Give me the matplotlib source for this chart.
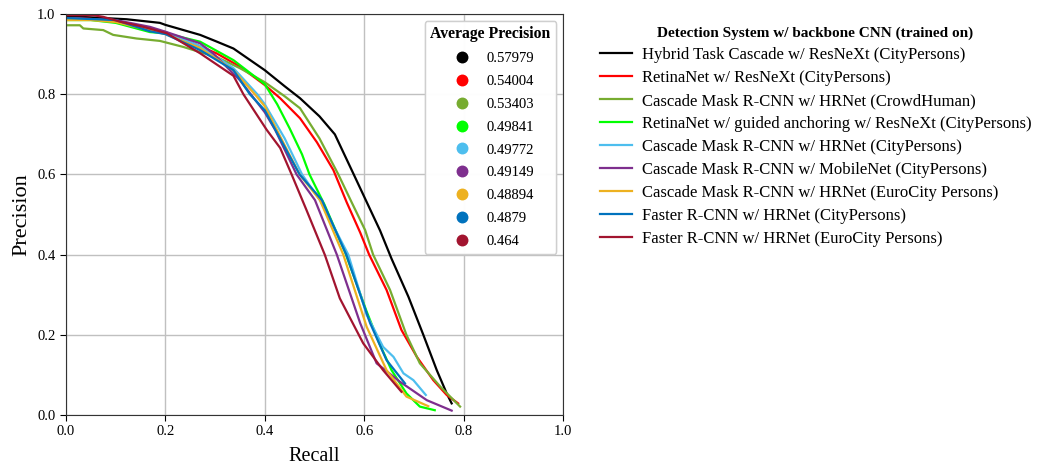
import matplotlib.pyplot as plt
from matplotlib.lines import Line2D

plt.rcParams['font.family'] = ['Liberation Serif', 'DejaVu Serif']

# detectors, AP and colours
labels = ['Hybrid Task Cascade w/ ResNeXt (CityPersons)',
          'RetinaNet w/ ResNeXt (CityPersons)',
          'Cascade Mask R-CNN w/ HRNet (CrowdHuman)',
          'RetinaNet w/ guided anchoring w/ ResNeXt (CityPersons)',
          'Cascade Mask R-CNN w/ HRNet (CityPersons)',
          'Cascade Mask R-CNN w/ MobileNet (CityPersons)',
          'Cascade Mask R-CNN w/ HRNet (EuroCity Persons)',
          'Faster R-CNN w/ HRNet (CityPersons)',
          'Faster R-CNN w/ HRNet (EuroCity Persons)']
ap = ['0.57979', '0.54004', '0.53403', '0.49841', '0.49772', '0.49149', '0.48894', '0.4879', '0.464']
colors = ['#000000', '#ff0000', '#77ac30', '#00ff00', '#4dbeee', '#7e2f8e', '#edb120', '#0072bd', '#a2142f']

# precision / recall curves
htc_r = [0, 0.075, 0.122, 0.189, 0.2, 0.27, 0.3, 0.337, 0.4, 0.44, 0.471, 0.51, 0.541, 0.579, 0.632, 0.655, 0.689, 0.719, 0.746, 0.766, 0.776]
htc_p = [0.995, 0.99, 0.987, 0.978, 0.973, 0.948, 0.933, 0.914, 0.86, 0.82, 0.79, 0.745, 0.70, 0.60, 0.46, 0.39, 0.295, 0.20, 0.112, 0.054, 0.029]

retina_r = [0, 0.05, 0.1, 0.15, 0.2, 0.25, 0.303, 0.35, 0.4, 0.431, 0.471, 0.505, 0.538, 0.565, 0.592, 0.61, 0.645, 0.675, 0.706, 0.739, 0.766, 0.789]
retina_p = [0.99, 0.988, 0.982, 0.97, 0.955, 0.93, 0.902, 0.869, 0.823, 0.79, 0.74, 0.68, 0.611, 0.53, 0.455, 0.40, 0.312, 0.212, 0.145, 0.087, 0.05, 0.029]

crowd_r = [0, 0.028, 0.035, 0.075, 0.095, 0.142, 0.189, 0.236, 0.27, 0.303, 0.35, 0.4, 0.44, 0.471, 0.51, 0.548, 0.575, 0.602, 0.618, 0.652, 0.685, 0.712, 0.753, 0.793]
crowd_p = [0.972, 0.972, 0.964, 0.96, 0.948, 0.939, 0.933, 0.918, 0.905, 0.893, 0.865, 0.83, 0.795, 0.765, 0.69, 0.60, 0.53, 0.461, 0.40, 0.312, 0.2, 0.129, 0.071, 0.021]

ga_r = [0, 0.05, 0.1, 0.169, 0.2, 0.27, 0.337, 0.4, 0.425, 0.45, 0.475, 0.49, 0.52, 0.562, 0.605, 0.63, 0.655, 0.685, 0.712, 0.742]
ga_p = [0.985, 0.985, 0.978, 0.955, 0.952, 0.931, 0.885, 0.825, 0.775, 0.715, 0.65, 0.60, 0.525, 0.405, 0.258, 0.18, 0.112, 0.054, 0.021, 0.012]

cm_hr_r = [0, 0.1, 0.2, 0.27, 0.337, 0.385, 0.4, 0.44, 0.475, 0.511, 0.568, 0.605, 0.638, 0.659, 0.679, 0.699, 0.724]
cm_hr_p = [0.99, 0.983, 0.955, 0.92, 0.865, 0.80, 0.775, 0.69, 0.60, 0.536, 0.40, 0.25, 0.17, 0.145, 0.104, 0.087, 0.05]

cm_mob_r = [0, 0.1, 0.169, 0.2, 0.27, 0.296, 0.35, 0.4, 0.421, 0.464, 0.501, 0.545, 0.592, 0.625, 0.672, 0.726, 0.776]
cm_mob_p = [0.99, 0.985, 0.968, 0.956, 0.927, 0.902, 0.835, 0.755, 0.711, 0.60, 0.536, 0.40, 0.229, 0.129, 0.083, 0.037, 0.011]

cm_ec_r = [0, 0.05, 0.1, 0.2, 0.27, 0.337, 0.38, 0.4, 0.47, 0.511, 0.558, 0.605, 0.645, 0.685, 0.729]
cm_ec_p = [0.985, 0.985, 0.98, 0.95, 0.915, 0.86, 0.80, 0.77, 0.60, 0.536, 0.40, 0.22, 0.112, 0.046, 0.022]

frcnn_cp_r = [0, 0.1, 0.169, 0.2, 0.27, 0.337, 0.37, 0.4, 0.47, 0.515, 0.564, 0.612, 0.645, 0.682]
frcnn_cp_p = [0.99, 0.985, 0.957, 0.95, 0.91, 0.86, 0.80, 0.76, 0.60, 0.536, 0.40, 0.229, 0.137, 0.079]

frcnn_ec_r = [0, 0.055, 0.075, 0.109, 0.156, 0.203, 0.27, 0.337, 0.357, 0.404, 0.431, 0.454, 0.484, 0.521, 0.551, 0.598, 0.638, 0.675]
frcnn_ec_p = [0.997, 0.997, 0.993, 0.981, 0.968, 0.952, 0.902, 0.846, 0.80, 0.711, 0.666, 0.60, 0.511, 0.399, 0.291, 0.179, 0.112, 0.058]

recalls = [htc_r, retina_r, crowd_r, ga_r, cm_hr_r, cm_mob_r, cm_ec_r, frcnn_cp_r, frcnn_ec_r]
precisions = [htc_p, retina_p, crowd_p, ga_p, cm_hr_p, cm_mob_p, cm_ec_p, frcnn_cp_p, frcnn_ec_p]

fig = plt.figure(figsize=(10.37, 4.68), dpi=100)
ax = fig.add_axes([0.0636, 0.1132, 0.4793, 0.8568])

for r, p, c in zip(recalls, precisions, colors):
    ax.plot(r, p, color=c, lw=1.6)

ax.set_xlim(0, 1)
ax.set_ylim(0, 1)
ax.set_xlabel('Recall', fontsize=14.5, labelpad=6)
ax.set_ylabel('Precision', fontsize=16)
ax.grid(True, color='#c0c0c0', lw=1)
ax.tick_params(labelsize=10.5, direction='out', length=4)
for s in ax.spines.values():
    s.set_color('#333333')

ap_handles = [Line2D([], [], ls='', marker='o', ms=7.5, color=c) for c in colors]
leg1 = ax.legend(ap_handles, ap, title='Average Precision', loc='upper right',
                 fontsize=10.5, title_fontproperties={'weight': 'bold', 'size': 11.3},
                 borderaxespad=0.45, labelspacing=0.66, handlelength=2, handletextpad=0.7,
                 fancybox=True, edgecolor='#cccccc', framealpha=0.85)
ax.add_artist(leg1)

line_handles = [Line2D([], [], color=c, lw=1.6) for c in colors]
fig.legend(line_handles, labels, title='Detection System w/ backbone CNN (trained on)',
           loc='upper left', bbox_to_anchor=(0.564, 0.975), frameon=False,
           fontsize=12, title_fontproperties={'weight': 'bold', 'size': 11},
           labelspacing=0.42, handlelength=1.9, handletextpad=0.6)

fig.savefig('out.png', dpi=100)
